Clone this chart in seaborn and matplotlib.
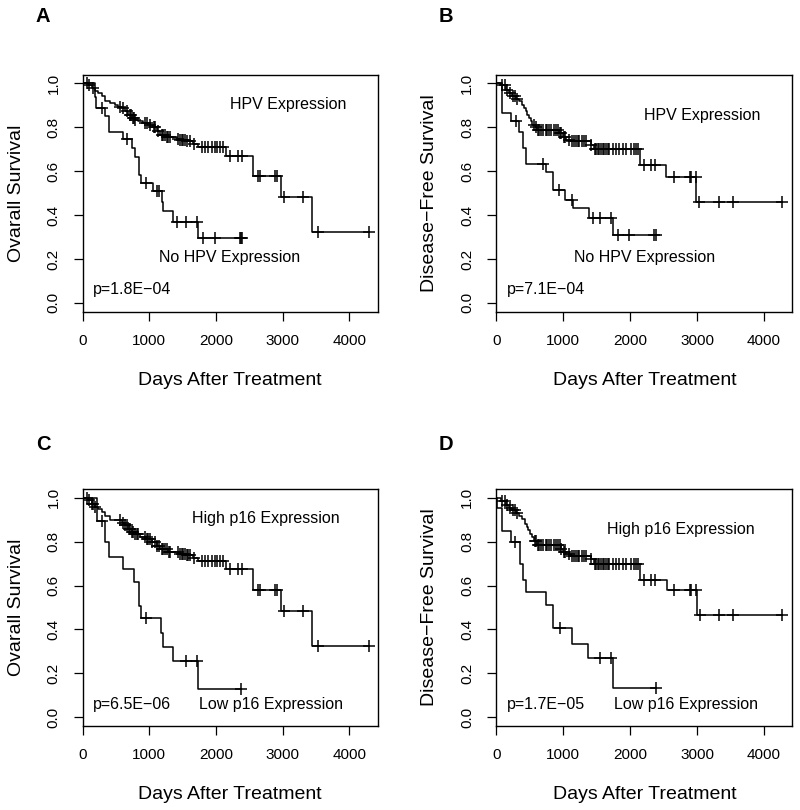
import numpy as np
import seaborn as sns
import matplotlib
matplotlib.use('Agg')
import matplotlib.pyplot as plt

# Kaplan-Meier step data: event times (days) and survival after each event
# Panel A: overall survival by HPV expression
hpv_os_t = [0, 85, 135, 185, 235, 285, 335, 410, 485, 535, 585, 635, 685, 735, 785, 835, 910, 985,
            1060, 1110, 1160, 1260, 1410, 1460, 1560, 1660, 1735, 2150, 2550, 2975, 3445]
hpv_os_s = [1.0, 0.991, 0.979, 0.967, 0.956, 0.941, 0.921, 0.911, 0.903, 0.895, 0.888, 0.873, 0.858,
            0.842, 0.835, 0.827, 0.82, 0.812, 0.80, 0.782, 0.767, 0.755, 0.748, 0.744, 0.736, 0.724,
            0.709, 0.670, 0.578, 0.482, 0.323]
hpv_os_cens = [60, 100, 160, 560, 600, 660, 710, 720, 760, 770, 790, 935, 960, 1010, 1065, 1085, 1135,
               1185, 1210, 1235, 1265, 1285, 1310, 1435, 1465, 1485, 1510, 1535, 1565, 1610, 1665, 1785,
               1835, 1885, 1935, 1985, 2010, 2060, 2110, 2210, 2335, 2385, 2635, 2660, 2885, 2910, 3020,
               3310, 3535, 4290]

nohpv_os_t = [0, 190, 200, 335, 400, 600, 735, 785, 850, 875, 1050, 1185, 1200, 1350, 1735]
nohpv_os_s = [1.0, 0.94, 0.89, 0.85, 0.78, 0.748, 0.706, 0.664, 0.585, 0.547, 0.509, 0.46, 0.418, 0.37, 0.297]
nohpv_os_cens = [285, 660, 950, 1120, 1150, 1410, 1550, 1710, 1810, 1985, 2355, 2375, 2390]

# Panel B: disease-free survival by HPV expression
hpv_dfs_t = [0, 74, 139, 189, 239, 289, 339, 389, 414, 439, 464, 489, 514, 539, 589, 614, 939, 989,
             1039, 1114, 1414, 1464, 2145, 2535, 2990]
hpv_dfs_s = [1.0, 0.994, 0.971, 0.956, 0.941, 0.930, 0.918, 0.903, 0.888, 0.873, 0.858, 0.842, 0.827,
             0.812, 0.80, 0.789, 0.774, 0.755, 0.744, 0.736, 0.721, 0.70, 0.63, 0.576, 0.462]
hpv_dfs_cens = [89, 124, 164, 204, 254, 274, 314, 564, 595, 620, 640, 664, 704, 739, 764, 790, 824, 864,
                889, 914, 944, 964, 1004, 1024, 1089, 1124, 1154, 1189, 1214, 1239, 1274, 1304, 1339,
                1420, 1470, 1489, 1514, 1539, 1564, 1589, 1614, 1639, 1664, 1689, 1739, 1789, 1839,
                1889, 1939, 2014, 2054, 2089, 2124, 2214, 2319, 2379, 2654, 2889, 2904, 2985, 3030,
                3330, 3545, 4270]

nohpv_dfs_t = [0, 90, 215, 340, 405, 450, 740, 840, 1025, 1140, 1380, 1740]
nohpv_dfs_s = [1.0, 0.865, 0.827, 0.78, 0.706, 0.635, 0.598, 0.515, 0.47, 0.433, 0.385, 0.31]
nohpv_dfs_cens = [290, 690, 940, 1125, 1440, 1555, 1715, 1815, 1990, 2355, 2380]

# Panel C: overall survival by p16 expression
p16hi_os_t = [0, 85, 135, 185, 235, 285, 335, 410, 585, 635, 685, 735, 785, 860, 960, 1035, 1110, 1160,
              1285, 1460, 1560, 1660, 1735, 2150, 2550, 2975, 3445]
p16hi_os_s = [1.0, 0.99, 0.973, 0.958, 0.948, 0.936, 0.917, 0.898, 0.887, 0.875, 0.86, 0.845, 0.834,
              0.822, 0.81, 0.799, 0.78, 0.766, 0.754, 0.746, 0.739, 0.726, 0.711, 0.674, 0.581, 0.483, 0.323]
p16hi_os_cens = [60, 100, 140, 160, 190, 560, 600, 640, 660, 690, 710, 740, 760, 790, 810, 835, 935, 965,
                 985, 1010, 1040, 1085, 1120, 1150, 1185, 1210, 1235, 1260, 1290, 1310, 1435, 1465, 1485,
                 1510, 1535, 1565, 1585, 1610, 1665, 1785, 1835, 1885, 1935, 1985, 2010, 2060, 2110,
                 2210, 2335, 2385, 2635, 2660, 2885, 2910, 3020, 3310, 3535, 4290]

p16lo_os_t = [0, 215, 335, 400, 610, 770, 840, 870, 1175, 1205, 1360, 1735]
p16lo_os_s = [1.0, 0.895, 0.80, 0.73, 0.675, 0.617, 0.505, 0.45, 0.386, 0.322, 0.258, 0.129]
p16lo_os_cens = [285, 950, 1550, 1710, 2380]

# Panel D: disease-free survival by p16 expression
p16hi_dfs_t = [0, 74, 139, 189, 239, 289, 339, 389, 424, 454, 479, 504, 529, 564, 614, 964, 989, 1039,
               1114, 1414, 1464, 2145, 2545, 2995]
p16hi_dfs_s = [1.0, 0.985, 0.969, 0.954, 0.943, 0.932, 0.917, 0.902, 0.882, 0.867, 0.852, 0.837, 0.822,
               0.802, 0.787, 0.766, 0.751, 0.742, 0.736, 0.723, 0.70, 0.626, 0.578, 0.464]
p16hi_dfs_cens = [89, 124, 164, 204, 254, 274, 314, 570, 595, 620, 640, 664, 704, 739, 764, 790, 824, 864,
                  889, 914, 944, 970, 1004, 1024, 1089, 1124, 1154, 1189, 1214, 1239, 1274, 1304, 1339,
                  1420, 1470, 1489, 1514, 1539, 1564, 1589, 1614, 1639, 1664, 1689, 1739, 1789, 1839,
                  1889, 1939, 2014, 2054, 2089, 2124, 2214, 2319, 2379, 2654, 2889, 2904, 2985, 3039,
                  3329, 3544, 4270]

p16lo_dfs_t = [0, 15, 90, 215, 350, 400, 440, 740, 840, 1125, 1365, 1740]
p16lo_dfs_s = [1.0, 0.955, 0.848, 0.80, 0.70, 0.625, 0.57, 0.512, 0.405, 0.335, 0.268, 0.135]
p16lo_dfs_cens = [285, 955, 1555, 1710, 2380]

x_ticks = [0, 1000, 2000, 3000, 4000]
y_ticks = [0.0, 0.2, 0.4, 0.6, 0.8, 1.0]

MINUS = '\u2212'

sns.set_style('ticks')
plt.rcParams['font.family'] = ['Liberation Sans', 'DejaVu Sans']
plt.rcParams['axes.unicode_minus'] = True
plt.rcParams['text.color'] = 'black'
plt.rcParams['axes.labelcolor'] = 'black'
plt.rcParams['xtick.color'] = 'black'
plt.rcParams['ytick.color'] = 'black'
plt.rcParams['axes.edgecolor'] = 'black'


def draw_km(ax, t, s, cens):
    # step curve, extended to the last follow-up time
    end = max(t[-1], max(cens))
    xs = list(t) + [end]
    ys = list(s) + [s[-1]]
    sns.lineplot(x=xs, y=ys, drawstyle='steps-post', estimator=None, sort=False,
                 color='black', linewidth=1.1, ax=ax)
    # censor marks sit on the curve
    idx = np.searchsorted(t, cens, side='right') - 1
    cs = np.array(s)[idx]
    sns.scatterplot(x=cens, y=cs, marker='+', s=64, color='black', linewidth=1.1, ax=ax, zorder=3)


def style_axes(ax, ylabel):
    ax.set_xlim(0, 4426)
    ax.set_ylim(-0.04, 1.04)
    ax.set_xticks(x_ticks)
    ax.set_xticklabels([str(v) for v in x_ticks])
    ax.set_yticks(y_ticks)
    ax.set_yticklabels([f'{v:.1f}' for v in y_ticks], rotation=90, va='center')
    ax.tick_params(axis='both', direction='out', length=6.5, width=0.9, labelsize=11,
                   color='black', labelcolor='black')
    ax.tick_params(axis='x', pad=9.5)
    ax.tick_params(axis='y', pad=9.5)
    for sp in ax.spines.values():
        sp.set_visible(True)
        sp.set_color('black')
        sp.set_linewidth(1.0)
    ax.set_xlabel('Days After Treatment', fontsize=14, va='center', color='black')
    ax.xaxis.set_label_coords(0.5, -0.29)
    ax.set_ylabel(ylabel, fontsize=14, va='center', color='black')
    ax.yaxis.set_label_coords(-0.225, 0.5)


fig = plt.figure(figsize=(8, 8.1), dpi=100)
W, H = 800.0, 810.0


def add_panel(left, top, right, bottom):
    return fig.add_axes([left / W, 1 - bottom / H, (right - left) / W, (bottom - top) / H])


axA = add_panel(82.6, 74.7, 377.7, 311.7)
axB = add_panel(496.4, 74.7, 792.3, 311.7)
axC = add_panel(82.6, 489, 377.7, 726)
axD = add_panel(496.4, 489, 792.3, 726)

draw_km(axA, hpv_os_t, hpv_os_s, hpv_os_cens)
draw_km(axA, nohpv_os_t, nohpv_os_s, nohpv_os_cens)
style_axes(axA, 'Ovarall Survival')
axA.text(3081, 0.905, 'HPV Expression', ha='center', va='center', fontsize=11.5)
axA.text(2204, 0.205, 'No HPV Expression', ha='center', va='center', fontsize=11.5)
axA.text(151, 0.06, 'p=1.8E' + MINUS + '04', ha='left', va='center', fontsize=11.5)

draw_km(axB, hpv_dfs_t, hpv_dfs_s, hpv_dfs_cens)
draw_km(axB, nohpv_dfs_t, nohpv_dfs_s, nohpv_dfs_cens)
style_axes(axB, 'Disease' + MINUS + 'Free Survival')
axB.text(3084, 0.856, 'HPV Expression', ha='center', va='center', fontsize=11.5)
axB.text(2210, 0.205, 'No HPV Expression', ha='center', va='center', fontsize=11.5)
axB.text(155, 0.06, 'p=7.1E' + MINUS + '04', ha='left', va='center', fontsize=11.5)

draw_km(axC, p16hi_os_t, p16hi_os_s, p16hi_os_cens)
draw_km(axC, p16lo_os_t, p16lo_os_s, p16lo_os_cens)
style_axes(axC, 'Ovarall Survival')
axC.text(2751, 0.907, 'High p16 Expression', ha='center', va='center', fontsize=11.5)
axC.text(151, 0.058, 'p=6.5E' + MINUS + '06', ha='left', va='center', fontsize=11.5)
axC.text(1750, 0.058, 'Low p16 Expression', ha='left', va='center', fontsize=11.5)

draw_km(axD, p16hi_dfs_t, p16hi_dfs_s, p16hi_dfs_cens)
draw_km(axD, p16lo_dfs_t, p16lo_dfs_s, p16lo_dfs_cens)
style_axes(axD, 'Disease' + MINUS + 'Free Survival')
axD.text(2754, 0.857, 'High p16 Expression', ha='center', va='center', fontsize=11.5)
axD.text(155, 0.058, 'p=1.7E' + MINUS + '05', ha='left', va='center', fontsize=11.5)
axD.text(1764, 0.058, 'Low p16 Expression', ha='left', va='center', fontsize=11.5)

# panel letters
for letter, px, py in [('A', 43, 17), ('B', 446, 17), ('C', 43, 445), ('D', 446, 445)]:
    fig.text(px / W, 1 - py / H, letter, fontsize=14.5, fontweight='bold', ha='center', va='center',
             color='black')

fig.savefig('out.png', dpi=100, facecolor='white')
